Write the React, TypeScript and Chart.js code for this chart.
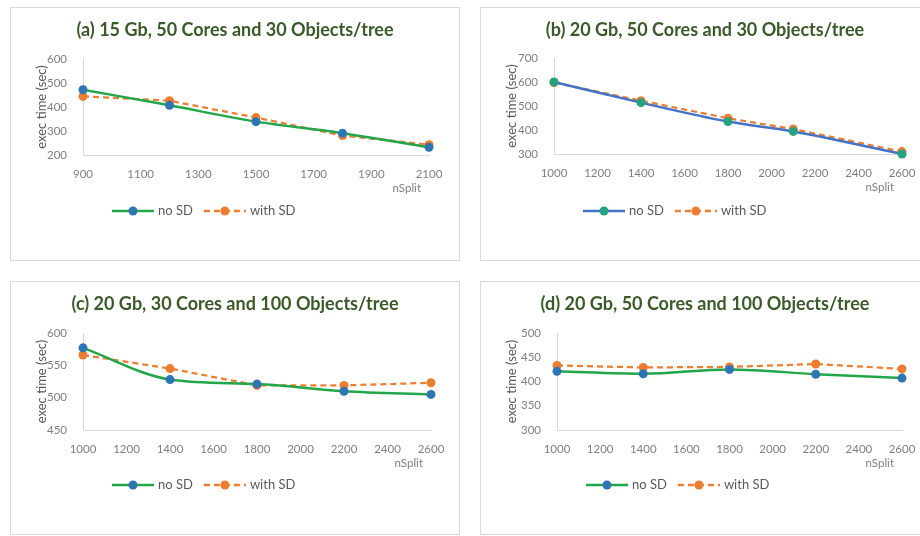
import React, { useEffect, useRef } from "react";
import { Chart, registerables } from "chart.js";

Chart.register(...registerables);

// ---------- data ----------
const panelTitles = [
  "(a) 15 Gb, 50 Cores and 30 Objects/tree",
  "(b) 20 Gb, 50 Cores and 30 Objects/tree",
  "(c) 20 Gb, 30 Cores and 100 Objects/tree",
  "(d) 20 Gb, 50 Cores and 100 Objects/tree",
];
const seriesNames = ["no SD", "with SD"];
const xAxisTitle = "nSplit";
const yAxisTitle = "exec time (sec)";

const nSplitA = [900, 1200, 1500, 1800, 2100];
const noSdA = [472, 407, 339, 291, 232];
const withSdA = [444, 426, 356, 281, 243];

const nSplitB = [1000, 1400, 1800, 2100, 2600];
const noSdB = [600, 514, 435, 394, 300];
const withSdB = [598, 522, 449, 404, 310];

const nSplitC = [1000, 1400, 1800, 2200, 2600];
const noSdC = [577, 528, 521, 510, 505];
const withSdC = [566, 545, 519, 519, 523];

const nSplitD = [1000, 1400, 1800, 2200, 2600];
const noSdD = [421, 416, 425, 415, 407];
const withSdD = [433, 429, 430, 436, 426];

// axis ranges [min, max, step]
const xRangeA = [900, 2100, 200];
const xRangeBCD = [1000, 2600, 200];
const yRangeA = [200, 600, 100];
const yRangeB = [300, 700, 100];
const yRangeC = [450, 600, 50];
const yRangeD = [300, 500, 50];

// ---------- styles ----------
const FONT = "Lato, 'Open Sans', sans-serif";
const GREEN = "#22A64A";
const BLUE_MARK = "#2E75B6";
const BLUE_LINE = "#4472C4";
const TEAL_MARK = "#25A27E";
const ORANGE = "#ED7D31";
const AXIS = "#D9D9D9";
const TICK = "#7F7F7F";
const TEXT = "#595959";
const TITLE = "#3B5A2A";

const CW = 448;
const CH = 252;

type PanelCfg = {
  title: string;
  xs: number[];
  a: number[];
  b: number[];
  xr: number[];
  yr: number[];
  lineA: string;
  markA: string;
  left: number;
  top: number;
  chartL: number;
  chartT: number;
  chartR: number;
  chartB: number;
};

const panels: PanelCfg[] = [
  { title: panelTitles[0], xs: nSplitA, a: noSdA, b: withSdA, xr: xRangeA, yr: yRangeA, lineA: GREEN, markA: BLUE_MARK, left: 10, top: 7, chartL: 72, chartT: 51, chartR: 418, chartB: 147 },
  { title: panelTitles[1], xs: nSplitB, a: noSdB, b: withSdB, xr: xRangeBCD, yr: yRangeB, lineA: BLUE_LINE, markA: TEAL_MARK, left: 480, top: 7, chartL: 73, chartT: 50, chartR: 421, chartB: 146 },
  { title: panelTitles[2], xs: nSplitC, a: noSdC, b: withSdC, xr: xRangeBCD, yr: yRangeC, lineA: GREEN, markA: BLUE_MARK, left: 10, top: 281, chartL: 72, chartT: 51, chartR: 420, chartB: 148 },
  { title: panelTitles[3], xs: nSplitD, a: noSdD, b: withSdD, xr: xRangeBCD, yr: yRangeD, lineA: GREEN, markA: BLUE_MARK, left: 480, top: 281, chartL: 76, chartT: 51, chartR: 421, chartB: 148 },
];

const XH = 50;

const decorPlugin = {
  id: "decor",
  afterDraw(chart: any, _args: any, opts: any) {
    const ctx = chart.ctx;
    const area = chart.chartArea;
    ctx.save();
    // title
    ctx.fillStyle = TITLE;
    ctx.font = `bold 18px ${FONT}`;
    ctx.textAlign = "center";
    ctx.textBaseline = "middle";
    ctx.fillText(opts.title, chart.width / 2, 22);
    // x-axis title
    ctx.fillStyle = TICK;
    ctx.font = `11.5px ${FONT}`;
    ctx.textAlign = "right";
    ctx.fillText(xAxisTitle, area.right - 8, area.bottom + 33);
    // legend
    const ly = 203;
    let x = area.left + 29;
    const lineLen = 42;
    chart.data.datasets.forEach((ds: any) => {
      ctx.save();
      ctx.strokeStyle = ds.borderColor;
      ctx.lineWidth = 2.5;
      ctx.setLineDash(ds.borderDash || []);
      ctx.beginPath();
      ctx.moveTo(x, ly);
      ctx.lineTo(x + lineLen, ly);
      ctx.stroke();
      ctx.setLineDash([]);
      ctx.fillStyle = ds.pointBackgroundColor;
      ctx.beginPath();
      ctx.arc(x + lineLen / 2, ly, 4.5, 0, Math.PI * 2);
      ctx.fill();
      ctx.restore();
      ctx.fillStyle = TEXT;
      ctx.font = `13px ${FONT}`;
      ctx.textAlign = "left";
      ctx.textBaseline = "middle";
      const tx = x + lineLen + 4;
      ctx.fillText(ds.label, tx, ly);
      x = tx + ctx.measureText(ds.label).width + 11;
    });
    ctx.restore();
  },
};

function Panel({ cfg }: { cfg: PanelCfg }) {
  const ref = useRef<HTMLCanvasElement | null>(null);
  useEffect(() => {
    if (!ref.current) return;
    const chart = new Chart(ref.current, {
      type: "line",
      data: {
        datasets: [
          {
            label: seriesNames[0],
            data: cfg.xs.map((x, i) => ({ x, y: cfg.a[i] })),
            borderColor: cfg.lineA,
            backgroundColor: cfg.markA,
            pointBackgroundColor: cfg.markA,
            pointBorderColor: cfg.markA,
            pointBorderWidth: 0,
            pointRadius: 4.5,
            borderWidth: 2.5,
            cubicInterpolationMode: "monotone",
            clip: false,
          } as any,
          {
            label: seriesNames[1],
            data: cfg.xs.map((x, i) => ({ x, y: cfg.b[i] })),
            borderColor: ORANGE,
            backgroundColor: ORANGE,
            pointBackgroundColor: ORANGE,
            pointBorderColor: ORANGE,
            pointBorderWidth: 0,
            pointRadius: 4.5,
            borderWidth: 2.25,
            borderDash: [6, 4],
            tension: 0,
            clip: false,
          } as any,
        ],
      },
      options: {
        animation: false,
        responsive: false,
        devicePixelRatio: 1,
        layout: {
          padding: {
            left: 0,
            top: cfg.chartT,
            right: CW - cfg.chartR,
            bottom: CH - cfg.chartB - XH,
          },
        },
        plugins: {
          legend: { display: false },
          title: { display: false },
          tooltip: { enabled: false },
          decor: { title: cfg.title },
        } as any,
        scales: {
          x: {
            type: "linear",
            min: cfg.xr[0],
            max: cfg.xr[1],
            grid: { display: false },
            border: { display: true, color: AXIS, width: 1 },
            ticks: {
              stepSize: cfg.xr[2],
              color: TICK,
              font: { family: FONT, size: 11.5 },
              padding: 4,
              maxRotation: 0,
              autoSkip: false,
              callback: (v: any) => String(v),
            },
            title: { display: false },
            afterFit: (s: any) => {
              s.height = XH;
            },
          } as any,
          y: {
            type: "linear",
            min: cfg.yr[0],
            max: cfg.yr[1],
            grid: { display: false },
            border: { display: true, color: AXIS, width: 1 },
            ticks: {
              stepSize: cfg.yr[2],
              color: TICK,
              font: { family: FONT, size: 11.5 },
              padding: 8,
              callback: (v: any) => String(v),
            },
            title: {
              display: true,
              text: yAxisTitle,
              color: TEXT,
              font: { family: FONT, size: 13 },
              padding: { top: 23, bottom: 0 },
            },
            afterFit: (s: any) => {
              s.width = cfg.chartL;
            },
          } as any,
        },
      },
      plugins: [decorPlugin as any],
    });
    return () => chart.destroy();
  }, [cfg]);

  return (
    <div
      style={{
        position: "absolute",
        left: cfg.left,
        top: cfg.top,
        width: CW,
        height: CH,
        border: `1px solid ${AXIS}`,
        background: "#ffffff",
      }}
    >
      <canvas ref={ref} width={CW} height={CH} style={{ display: "block", width: CW, height: CH }} />
    </div>
  );
}

export default function App() {
  return (
    <div
      style={{
        position: "absolute",
        left: 0,
        top: 0,
        width: 920,
        height: 536,
        overflow: "hidden",
        background: "#ffffff",
      }}
    >
      {panels.map((p, i) => (
        <Panel key={i} cfg={p} />
      ))}
    </div>
  );
}
